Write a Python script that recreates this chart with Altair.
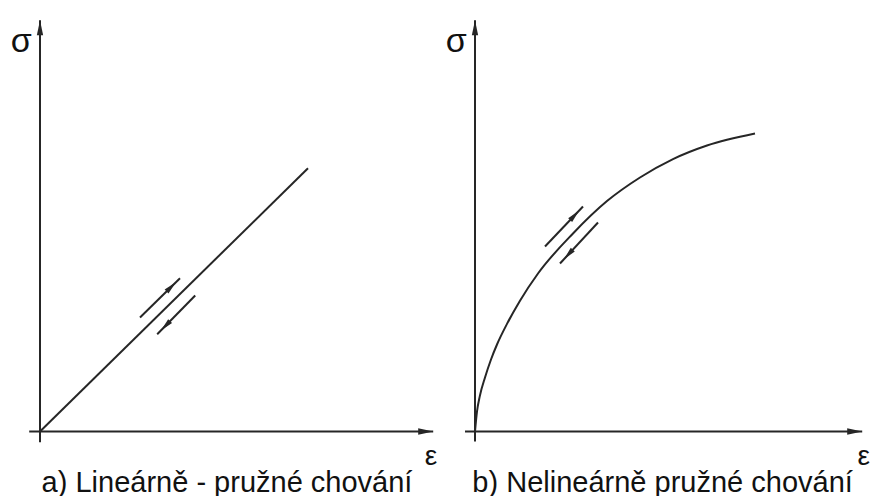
import altair as alt
import numpy as np
import pandas as pd

# Stress–strain sketches: (a) linear elastic, (b) nonlinear elastic behaviour.
CAPTIONS = ["a) Lineárně - pružné chování", "b) Nelineárně pružné chování"]
SIGMA_LABEL = "σ"
EPS_LABEL = "ε"

# axis extents per panel, in strain / stress units
AXIS_EPS_END = [9.83, 9.68]
AXIS_SIG_END = [10.28, 10.28]
AXIS_START = [-0.27, -0.25]

# panel a: straight loading line
LIN_EPS = [0.0, 6.7]
LIN_SIG = [0.0, 6.58]

# panel b: curved loading path
CURVE_EPS = [0.0, 0.05, 0.12, 0.25, 0.4, 0.55, 0.8, 1.125, 1.575, 2.45, 3.3, 4.125, 4.95, 5.8, 7.0]
CURVE_SIG = [0.0, 0.5, 0.885, 1.35, 1.8, 2.175, 2.69, 3.27, 3.95, 4.95, 5.76, 6.35, 6.81, 7.15, 7.45]

# loading (up) and unloading (down) arrows: start/end points per panel
ARROW_PANEL = [0, 0, 1, 1]
ARROW_EPS0 = [2.5, 3.88, 1.75, 3.075]
ARROW_SIG0 = [2.85, 3.4, 4.625, 5.225]
ARROW_EPS1 = [3.5, 2.93, 2.7, 2.125]
ARROW_SIG1 = [3.83, 2.43, 5.625, 4.2]

# ---- layout ----
W, H = 871, 496
PX = 40.0                # pixels per unit on both axes
ORIGIN_X, ORIGIN_Y = 40.0, 431.5
PANEL_SHIFT = [0.0, 435.0 / PX]
INK = "#262626"
FONT = "Liberation Sans"

x_dom = [-ORIGIN_X / PX, (W - ORIGIN_X) / PX]
y_dom = [(ORIGIN_Y - H) / PX, ORIGIN_Y / PX]
xs = alt.Scale(domain=x_dom, nice=False, zero=False)
ys = alt.Scale(domain=y_dom, nice=False, zero=False)

HEAD = "M0,-1L0.42,1L-0.42,1Z"
AXIS_HEAD_LEN = 15.0
SMALL_HEAD_LEN = 13.0

segs, heads = [], []
for p in range(2):
    s = PANEL_SHIFT[p]
    # sigma axis (vertical) and epsilon axis (horizontal)
    segs.append(dict(x=s, y=AXIS_START[p], x2=s, y2=AXIS_SIG_END[p]))
    segs.append(dict(x=s + AXIS_START[p], y=0.0, x2=s + AXIS_EPS_END[p], y2=0.0))
    half = AXIS_HEAD_LEN / 2 / PX
    heads.append(dict(x=s, y=AXIS_SIG_END[p] - half, angle=0.0, size=AXIS_HEAD_LEN ** 2))
    heads.append(dict(x=s + AXIS_EPS_END[p] - half, y=0.0, angle=90.0, size=AXIS_HEAD_LEN ** 2))

segs.append(dict(x=LIN_EPS[0], y=LIN_SIG[0], x2=LIN_EPS[1], y2=LIN_SIG[1]))

for p, e0, s0, e1, s1 in zip(ARROW_PANEL, ARROW_EPS0, ARROW_SIG0, ARROW_EPS1, ARROW_SIG1):
    sh = PANEL_SHIFT[p]
    segs.append(dict(x=sh + e0, y=s0, x2=sh + e1, y2=s1))
    f = 0.78
    ang = np.degrees(np.arctan2(e1 - e0, s1 - s0)) % 360
    heads.append(dict(x=sh + e0 + f * (e1 - e0), y=s0 + f * (s1 - s0),
                      angle=float(ang), size=SMALL_HEAD_LEN ** 2))

seg_df = pd.DataFrame(segs)
head_df = pd.DataFrame(heads)
curve_df = pd.DataFrame({"x": np.array(CURVE_EPS) + PANEL_SHIFT[1], "y": CURVE_SIG})

texts = []
for p in range(2):
    s = PANEL_SHIFT[p]
    texts.append(dict(x=s - 0.47, y=9.74, t=SIGMA_LABEL, fs=34, base="middle"))
    texts.append(dict(x=s + [9.775, 9.72][p], y=-0.64, t=EPS_LABEL, fs=28, base="middle"))
    texts.append(dict(x=s + [4.675, 4.69][p], y=-1.5, t=CAPTIONS[p], fs=29, base="alphabetic"))
text_df = pd.DataFrame(texts)

rules = alt.Chart(seg_df).mark_rule(color=INK, strokeWidth=2).encode(
    x=alt.X("x:Q", scale=xs, axis=None),
    y=alt.Y("y:Q", scale=ys, axis=None),
    x2="x2:Q",
    y2="y2:Q",
)

curve = alt.Chart(curve_df).mark_line(color=INK, strokeWidth=2, interpolate="monotone").encode(
    x=alt.X("x:Q", scale=xs, axis=None),
    y=alt.Y("y:Q", scale=ys, axis=None),
)

arrowheads = alt.Chart(head_df).mark_point(shape=HEAD, filled=True, color=INK, opacity=1).encode(
    x=alt.X("x:Q", scale=xs, axis=None),
    y=alt.Y("y:Q", scale=ys, axis=None),
    angle=alt.Angle("angle:Q", scale=None),
    size=alt.Size("size:Q", scale=None),
)

def text_layer(base):
    return alt.Chart(text_df[text_df.base == base]).mark_text(
        font=FONT, color="#111111", align="center", baseline=base
    ).encode(
        x=alt.X("x:Q", scale=xs, axis=None),
        y=alt.Y("y:Q", scale=ys, axis=None),
        text="t:N",
        size=alt.Size("fs:Q", scale=None),
    )

chart = alt.layer(rules, curve, arrowheads, text_layer("middle"), text_layer("alphabetic")).properties(
    width=W,
    height=H,
    padding=0,
    autosize=alt.AutoSizeParams(type="none"),
    background="white",
).configure_view(stroke=None)

chart.save("out.html", embed_options={"renderer": "svg", "actions": False})
